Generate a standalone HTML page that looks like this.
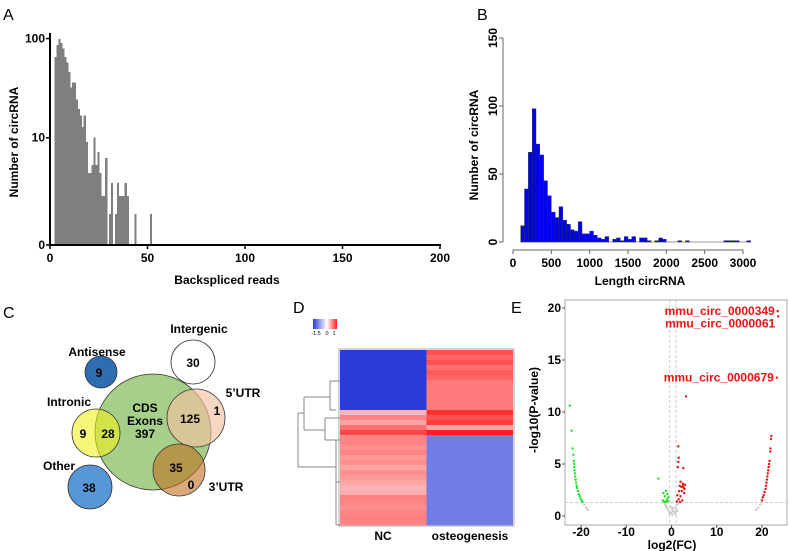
<!DOCTYPE html>
<html><head><meta charset="utf-8"><style>
body{margin:0;background:#fff;}
svg{display:block;font-family:"Liberation Sans",Arial,sans-serif;}
.b{font-weight:bold;font-size:12px;}
</style></head><body>
<svg id="fig" width="789" height="551" viewBox="0 0 789 551">
<g id="pA"></g>
<g id="pB"></g>
<g id="pC"></g>
<g id="pD"></g>
<g id="pE"></g>
</svg>
<script>
// Panel A data
const aReads=[3,4,5,6,7,8,9,10,11,12,13,14,15,16,17,18,19,20,21,22,23,24,25,26,27,28,29,30,31,32,33,34,35,36,37,38,39,40,41,42,43,44,45,46,47,48,49,50,51,52];
const aCounts=[66,86,99,90,80,66,58,47,33,37,37,25,20,17,13,17,9,4,4,5,10,5,7,4,2,2,6,0,1,3,0,1,3,2,2,2,3,2,0,0,0,1,0,0,0,0,0,0,0,1];
const aXTicks=[0,50,100,150,200];
const aYTicks=[0,10,100];
// Panel B data
const bBinStarts=[100,150,200,250,300,350,400,450,500,550,600,650,700,750,800,850,900,950,1000,1050,1100,1150,1200,1250,1300,1350,1400,1450,1500,1550,1600,1650,1700,1750,1800,1850,1900,1950,2000,2050,2100,2150,2200,2250,2300,2350,2400,2450,2500,2550,2600,2650,2700,2750,2800,2850,2900,2950,3000,3050];
const bCounts=[12,39,66,98,72,64,45,34,22,18,26,16,13,9,8,15,6,6,8,5,3,2,4,0,2,3,1,4,2,4,0,3,3,1,0,1,3,2,0,0,0,1,0,1,0,0,0,0,0,0,0,0,0,1,1,1,1,0,0,1];
const bXTicks=[0,500,1000,1500,2000,2500,3000];
const bYTicks=[0,50,100,150];
// Panel D data
const dNC=[-1.5,-1.5,-1.5,-1.5,-1.5,-1.5,-1.5,-1.5,-1.5,-1.5,-1.5,-1.5,0.35,0.6,0.45,0.7,0.9,0.6,0.6,0.55,0.6,0.5,0.55,0.45,0.55,0.5,0.45,0.38,0.4,0.62,0.6,0.55,0.6,0.62,0.6];
const dOst=[0.85,0.75,0.85,0.7,0.8,0.75,0.65,0.65,0.65,0.65,0.65,0.65,1.0,0.85,0.95,0.45,1.1,-1,-1,-1,-1,-1,-1,-1,-1,-1,-1,-1,-1,-1,-1,-1,-1,-1,-1];
const dCols=["NC","osteogenesis"];
// Panel E data
const eGreenX=[-22.5,-22.1,-21.9,-21.7,-21.6,-21.55,-21.5,-21.45,-21.4,-21.3,-21.2,-21.1,-21.0,-20.9,-20.7,-20.5,-20.3,-20.1,-19.9,-19.7,-2.9,-1.8,-1.2,-0.9,-1.5,-0.7,-1.9,-1.3,-0.8,-1.6,-1.0];
const eGreenY=[10.6,8.2,6.5,5.9,5.3,5.0,4.7,4.4,4.1,3.8,3.5,3.2,2.9,2.7,2.4,2.1,1.9,1.7,1.5,1.35,3.6,2.2,2.4,2.1,1.9,1.8,1.5,1.4,1.4,1.35,1.6];
const eRedX=[22.1,22.0,21.9,21.85,21.7,21.6,21.5,21.4,21.3,21.2,21.1,21.0,20.9,20.8,20.6,20.4,20.2,20.0,1.5,1.6,1.5,1.4,2.6,3.2,2.0,2.5,1.8,2.2,2.7,2.9,1.7,2.3,2.8,1.3,2.0,1.6,2.4,1.2,1.9,2.6,3.0,23.5,23.6,23.3];
const eRedY=[7.7,7.4,6.5,6.2,5.3,5.0,4.7,4.4,4.1,3.8,3.5,3.2,2.9,2.6,2.3,2.0,1.8,1.5,6.7,5.6,5.2,4.7,4.6,11.5,3.3,3.1,2.9,2.8,2.7,2.6,2.4,2.4,2.2,2.0,1.9,1.6,1.5,1.4,1.35,2.9,3.0,19.7,19.2,13.3];
const eGrayX=[-19.3,-18.9,-18.5,19.6,19.2,18.7,-1.2,-0.8,0,0.5,1.2,-0.5,0.3,0.8,-0.2,1.0,1.5,-1.5,0.2,0.6,-0.4,0.9,0.1,-1.0,1.3];
const eGrayY=[1.1,0.8,0.6,1.1,0.8,0.6,1.0,0.6,0.3,0.8,1.1,0.2,0.5,0.3,0.9,0.7,1.2,1.1,0.1,0.4,0.4,0.2,0.7,0.8,0.5];
const eLabels=["mmu_circ_0000349","mmu_circ_0000061","mmu_circ_0000679"];
const eLabelX=[23.5,23.6,23.3];
const eLabelY=[19.7,18.5,13.3];
const eXTicks=[-20,-10,0,10,20];
const eYTicks=[0,5,10,15,20];

const NS="http://www.w3.org/2000/svg";
function mk(p,tag,at,txt){const e=document.createElementNS(NS,tag);for(const k in at)e.setAttribute(k,at[k]);if(txt!==undefined)e.textContent=txt;p.appendChild(e);return e;}

// ---- Panel A
const A=document.getElementById('pA');
const ax=v=>50+v*1.95, ay=v=>245-103*Math.log10(1+v);
let t=mk(A,'text',{x:3,y:20,'font-size':16},'A');


aReads.forEach((r,i)=>{if(aCounts[i]<=0)return;const b=mk(A,'rect',{x:ax(r-1)+0.5,y:ay(aCounts[i]),width:2.2,height:245-ay(aCounts[i]),fill:'#7f7f7f','shape-rendering':'crispEdges'});

});
mk(A,'line',{x1:50,y1:33,x2:50,y2:245,stroke:'#000','stroke-width':2});
mk(A,'line',{x1:49,y1:245,x2:441,y2:245,stroke:'#000','stroke-width':2});
aXTicks.forEach(v=>{mk(A,'line',{x1:ax(v),y1:245,x2:ax(v),y2:249,stroke:'#000','stroke-width':1.5});
const l=mk(A,'text',{x:ax(v),y:262,'text-anchor':'middle',class:'b'},v);

});
aYTicks.forEach(v=>{mk(A,'line',{x1:46,y1:ay(v),x2:50,y2:ay(v),stroke:'#000','stroke-width':1.5});
const l=mk(A,'text',{x:45,y:ay(v)+4,'text-anchor':'end',class:'b'},v);

});
t=mk(A,'text',{x:227,y:284,'text-anchor':'middle',class:'b','font-size':12.5},'Backspliced reads');


t=mk(A,'text',{x:0,y:0,'text-anchor':'middle',class:'b','font-size':12.5,transform:'translate(18,142) rotate(-90)'},'Number of circRNA');



// ---- Panel B
const B=document.getElementById('pB');
const bx=v=>513+v*230/3000, by=v=>242-v*204/150;
t=mk(B,'text',{x:477,y:20,'font-size':16},'B');


mk(B,'line',{x1:bx(100),y1:242,x2:bx(3100),y2:242,stroke:'#999','stroke-width':1});
bBinStarts.forEach((s,i)=>{if(bCounts[i]<=0)return;const b=mk(B,'rect',{x:bx(s),y:by(bCounts[i]),width:bx(s+50)-bx(s),height:242-by(bCounts[i]),fill:'#0000ee',stroke:'#333','stroke-width':0.4});

});
mk(B,'line',{x1:503,y1:by(0),x2:503,y2:by(150),stroke:'#666','stroke-width':1});
mk(B,'line',{x1:bx(0),y1:250,x2:bx(3000),y2:250,stroke:'#666','stroke-width':1});
bYTicks.forEach(v=>{mk(B,'line',{x1:499,y1:by(v),x2:503,y2:by(v),stroke:'#666'});
const l=mk(B,'text',{x:0,y:0,'text-anchor':'middle',class:'b',transform:`translate(497,${by(v)}) rotate(-90)`},v);

});
bXTicks.forEach(v=>{mk(B,'line',{x1:bx(v),y1:250,x2:bx(v),y2:254,stroke:'#666'});
const l=mk(B,'text',{x:bx(v),y:267,'text-anchor':'middle',class:'b'},v);

});
t=mk(B,'text',{x:640,y:285,'text-anchor':'middle',class:'b','font-size':12.5},'Length circRNA');


t=mk(B,'text',{x:0,y:0,'text-anchor':'middle',class:'b','font-size':12.5,transform:'translate(478,145) rotate(-90)'},'Number of circRNA');



// ---- Panel C
const C=document.getElementById('pC');
t=mk(C,'text',{x:3,y:318,'font-size':16},'C');


const circles=[["cds-circle",153,432,58,'#a6d08a',1],["antisense-circle",101,372,16,'#2e6db0',1],["intergenic-circle",193,362,22,'#ffffff',1],["five-utr-circle",196,418,29,'#f4c0a0',0.65],["intronic-circle",96,433,24,'#f0f020',0.6],["other-circle",90,487,22,'#5897d6',1],["three-utr-circle",179,470,26,'#c07020',0.6]];
circles.forEach(c=>{const e=mk(C,'circle',{cx:c[1],cy:c[2],r:c[3],fill:c[4],'fill-opacity':c[5],stroke:'#333','stroke-width':0.8});

});
const ctext=[["Intergenic",199,333],["Antisense",97,356],["5’UTR",243,397],["Intronic",69,406],["Other",59,470],["3’UTR",226,491],["9",99,377],["30",193,367],["CDS",145,412],["Exons",145,425],["397",145,438],["125",190,423],["1",217,415],["9",83,438],["28",108,438],["35",176,472],["0",191,489],["38",89,492]];
ctext.forEach(c=>{const e=mk(C,'text',{x:c[1],y:c[2],'text-anchor':'middle',class:'b','font-size':12.5},c[0]);

});

// ---- Panel D
const D=document.getElementById('pD');
t=mk(D,'text',{x:293,y:313,'font-size':16},'D');


function hcol(v){if(v<0){const f=Math.min(1,-v/1.5);return `rgb(${Math.round(255-213*f)},${Math.round(255-195*f)},${Math.round(255-39*f)})`;}const f=Math.min(1,v/1.1);return `rgb(255,${Math.round(255-225*f)},${Math.round(255-225*f)})`;}
const defs=mk(D,'defs',{});const g=mk(defs,'linearGradient',{id:'cb'});
mk(g,'stop',{offset:'0','stop-color':hcol(-1.5)});mk(g,'stop',{offset:'0.58','stop-color':'#fff'});mk(g,'stop',{offset:'1','stop-color':hcol(1.1)});
t=mk(D,'rect',{x:313,y:319,width:24,height:10,fill:'url(#cb)'});


[["-1.5",316],["0",327],["1",334]].forEach(c=>{const e=mk(D,'text',{x:c[1],y:335,'text-anchor':'middle','font-size':5.5},c[0]);

});
const rh=175/dNC.length;
[dNC,dOst].forEach((arr,ci)=>{arr.forEach((v,ri)=>{const e=mk(D,'rect',{x:340+ci*86.5,y:350+ri*rh,width:86.5,height:rh+0.3,fill:hcol(v)});

});});
mk(D,'rect',{x:339,y:349,width:175,height:177,fill:'none',stroke:'#aaa','stroke-width':1});
t=mk(D,'path',{d:"M330,381V410M330,381H340M330,410H336M304,397V430M304,397H330M304,430H325M325,418V440M325,418H340M325,440H340M298,413V467M298,413H304M298,467H336M336,440V525M336,440H340M336,525H340M336,482H340",fill:'none',stroke:'#888','stroke-width':1});


dCols.forEach((c,i)=>{const e=mk(D,'text',{x:383+i*87,y:540,'text-anchor':'middle',class:'b'},c);

});

// ---- Panel E
const E=document.getElementById('pE');
const ex=v=>671.5+v*4.52, ey=v=>516-v*10.4;
t=mk(E,'text',{x:511,y:313,'font-size':16},'E');


mk(E,'rect',{x:565,y:300,width:222,height:225,fill:'#fff',stroke:'#aaa','stroke-width':1});
mk(E,'line',{x1:565,y1:ey(1.3),x2:787,y2:ey(1.3),stroke:'#ccc','stroke-dasharray':'3,2'});
[-0.4,1].forEach(v=>mk(E,'line',{x1:ex(v),y1:300,x2:ex(v),y2:525,stroke:'#ccc','stroke-dasharray':'3,2'}));
function pts(X,Y,col,nm){X.forEach((x,i)=>{const e=mk(E,'circle',{cx:ex(x),cy:ey(Y[i]),r:1.2,fill:col});

});}
pts(eGrayX,eGrayY,'#c8c8c8','point-ns');pts(eGreenX,eGreenY,'#22dd22','point-down');pts(eRedX,eRedY,'#ee1111','point-up');
eLabels.forEach((s,i)=>{const e=mk(E,'text',{x:ex(eLabelX[i])-3,y:ey(eLabelY[i])+4,'text-anchor':'end',class:'b','font-size':12.5,fill:'#ee1111'},s);

});
eXTicks.forEach(v=>{mk(E,'line',{x1:ex(v),y1:525,x2:ex(v),y2:528,stroke:'#555'});
const l=mk(E,'text',{x:ex(v),y:536,'text-anchor':'middle',class:'b'},v);

});
eYTicks.forEach(v=>{mk(E,'line',{x1:562,y1:ey(v),x2:565,y2:ey(v),stroke:'#555'});
const l=mk(E,'text',{x:561,y:ey(v)+4,'text-anchor':'end',class:'b'},v);

});
t=mk(E,'text',{x:672,y:549,'text-anchor':'middle',class:'b','font-size':12.5},'log2(FC)');


t=mk(E,'text',{x:0,y:0,'text-anchor':'middle',class:'b','font-size':12.5,transform:'translate(538,410) rotate(-90)'},'-log10(P-value)');


</script>
</body></html>
